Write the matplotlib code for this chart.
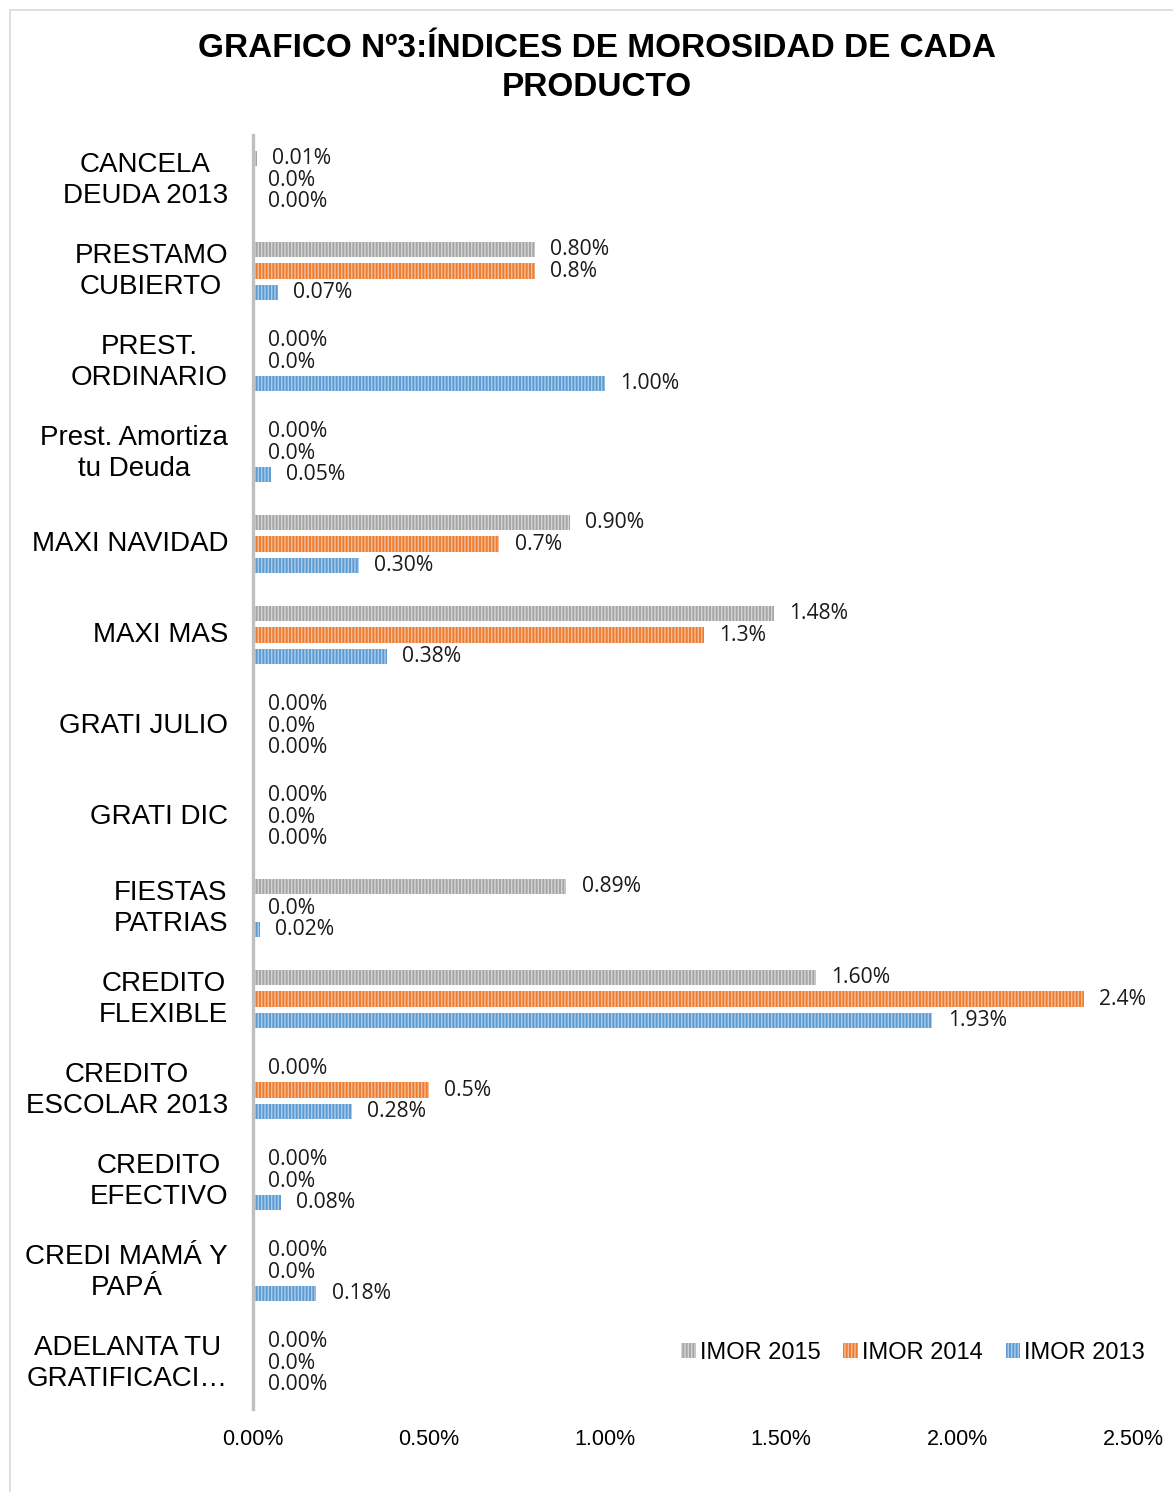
import matplotlib
matplotlib.use("Agg")
import matplotlib.pyplot as plt
from matplotlib import font_manager
from matplotlib.patches import Rectangle
import numpy as np

categories = ["CANCELA\nDEUDA 2013", "PRESTAMO\nCUBIERTO", "PREST.\nORDINARIO",
              "Prest. Amortiza\ntu Deuda", "MAXI NAVIDAD", "MAXI MAS", "GRATI JULIO",
              "GRATI DIC", "FIESTAS\nPATRIAS", "CREDITO\nFLEXIBLE", "CREDITO\nESCOLAR 2013",
              "CREDITO\nEFECTIVO", "CREDI MAMÁ Y\nPAPÁ", "ADELANTA TU\nGRATIFICACI…"]
imor_2015 = [0.01, 0.80, 0.00, 0.00, 0.90, 1.48, 0.00, 0.00, 0.89, 1.60, 0.00, 0.00, 0.00, 0.00]
imor_2014 = [0.00, 0.80, 0.00, 0.00, 0.70, 1.28, 0.00, 0.00, 0.00, 2.36, 0.50, 0.00, 0.00, 0.00]
imor_2013 = [0.00, 0.07, 1.00, 0.05, 0.30, 0.38, 0.00, 0.00, 0.02, 1.93, 0.28, 0.08, 0.18, 0.00]
series_names = ["IMOR 2015", "IMOR 2014", "IMOR 2013"]
x_ticks = [0.0, 0.5, 1.0, 1.5, 2.0, 2.5]

names = {f.name for f in font_manager.fontManager.ttflist}
label_font = "Open Sans" if "Open Sans" in names else "DejaVu Sans"

W, H, DPI = 1173, 1492, 100
fig = plt.figure(figsize=(W / DPI, H / DPI), dpi=DPI)
fig.add_artist(Rectangle((10 / W, -0.01), 1.0, (H - 10) / H + 0.01, transform=fig.transFigure,
                         fill=False, edgecolor="#D9D9D9", linewidth=1.2))

ax = fig.add_axes([253 / W, 1 - 1408.5 / H, (1133 - 253) / W, (1408.5 - 134.5) / H])

colors = ["#A5A5A5", "#ED7D31", "#5B9BD5"]
stripes = ["#D6D6D6", "#F6BE98", "#AECDEA"]
fmts = ["{:.2f}%", "{:.1f}%", "{:.2f}%"]
data = [imor_2015, imor_2014, imor_2013]

n = len(categories)
y = np.arange(n)
pitch = 0.236
bh = 0.165
plt.rcParams["hatch.linewidth"] = 1.0
for i, (vals, c, sc, fmt, nm) in enumerate(zip(data, colors, stripes, fmts, series_names)):
    ypos = y + (i - 1) * pitch
    ax.barh(ypos, vals, height=bh, color=c, edgecolor=sc, linewidth=0,
            hatch="|||||", label=nm)
    for yy, v in zip(ypos, vals):
        ax.annotate(fmt.format(v), xy=(v, yy), xytext=(11, 0), textcoords="offset points",
                    ha="left", va="center", fontsize=15.2, family=label_font, color="#1a1a1a")

ax.set_ylim(n - 0.5, -0.5)
ax.set_xlim(0, 2.5)
ax.set_xticks(x_ticks)
ax.set_xticklabels([f"{t:.2f}%" for t in x_ticks], fontsize=15.5, family="Liberation Sans")
ax.set_yticks(y)
ax.set_yticklabels(categories, fontsize=20, family="Liberation Sans", multialignment="center",
                   linespacing=1.25)
for lbl in ax.get_yticklabels():
    lbl.set_va("center")
ax.tick_params(axis="y", length=0, pad=18)
ax.tick_params(axis="x", length=0, pad=15)
for s in ["top", "right", "bottom"]:
    ax.spines[s].set_visible(False)
ax.spines["left"].set_color("#BFBFBF")
ax.spines["left"].set_linewidth(2.4)

ax.legend(loc="center right", bbox_to_anchor=(1.038, 1 - (1353 - 134.5) / (1408.5 - 134.5)),
          ncol=3, frameon=False, prop={"family": "Liberation Sans", "size": 17},
          handlelength=0.6, handleheight=0.6, handletextpad=0.2, columnspacing=0.95)

fig.text(597 / W, 1 - 68 / H, "GRAFICO Nº3:ÍNDICES DE MOROSIDAD DE CADA\nPRODUCTO",
         ha="center", va="center", fontsize=24, fontweight="bold", family="Liberation Sans",
         linespacing=1.32, color="#000000")

fig.savefig("out.png", dpi=DPI, facecolor="white")
